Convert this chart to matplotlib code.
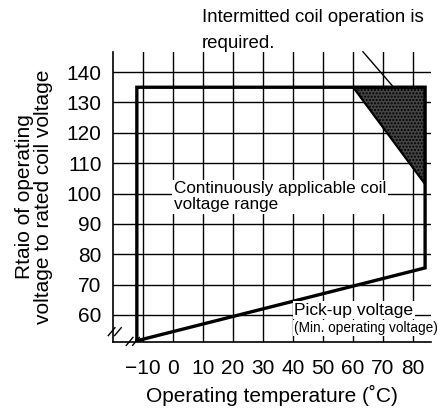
import matplotlib.pyplot as plt

plt.rcParams['font.family'] = ['Liberation Sans', 'DejaVu Sans']

# valori
temp_ticks = [-10, 0, 10, 20, 30, 40, 50, 60, 70, 80]
volt_ticks = [60, 70, 80, 90, 100, 110, 120, 130, 140]

# contorno zona di funzionamento continuo
region_temp = [-12, -12, 84, 84, -12]
region_volt = [51.5, 135, 135, 75.5, 51.5]

# zona a funzionamento intermittente (triangolo scuro)
intermit_temp = [60, 84, 84]
intermit_volt = [135, 135, 103]

# linea che collega la nota al triangolo
pointer_temp = [63.3, 73]
pointer_volt = [146.7, 135.6]

fig = plt.figure(figsize=(4.39, 4.13), dpi=100)
ax = fig.add_axes([0.257, 0.172, 0.725, 0.702])
ax.set_xlim(-20, 86)
ax.set_ylim(51.1, 146.6)

# griglia
for t in temp_ticks:
    ax.axvline(t, color='black', lw=1.0, zorder=1)
for v in volt_ticks:
    ax.axhline(v, color='black', lw=1.0, zorder=1)

ax.fill(intermit_temp, intermit_volt, facecolor='#444444', edgecolor='black',
        lw=1.6, hatch='.....', zorder=3)
ax.plot(region_temp, region_volt, color='black', lw=2.4, zorder=4,
        solid_joinstyle='miter')
ax.plot(pointer_temp, pointer_volt, color='black', lw=1.0, zorder=4, clip_on=False)

ax.set_xticks(temp_ticks)
ax.set_yticks(volt_ticks)
ax.set_xticklabels(['\u221210' if t < 0 else str(t) for t in temp_ticks], fontsize=15)
ax.set_yticklabels([str(v) for v in volt_ticks], fontsize=15)
ax.tick_params(axis='x', length=0, pad=12)
ax.tick_params(axis='y', length=0, pad=8)
for s in ['top', 'right']:
    ax.spines[s].set_visible(False)
ax.spines['left'].set_linewidth(1.2)
ax.spines['bottom'].set_linewidth(1.2)

ax.set_xlabel('Operating temperature (\u02daC)', fontsize=15, labelpad=5)
ax.set_ylabel('Rtaio of operating\nvoltage to rated coil voltage', fontsize=15,
              labelpad=10, linespacing=0.95)

box = dict(facecolor='white', edgecolor='none', pad=1)
ax.text(0.3, 99, 'Continuously applicable coil\nvoltage range', fontsize=12.3,
        ha='left', va='center', bbox=box, zorder=5, linespacing=1.1)
ax.text(40.5, 61.6, 'Pick-up voltage', fontsize=12.6, ha='left', va='center',
        bbox=box, zorder=5)
ax.text(40.5, 55.7, '(Min. operating voltage)', fontsize=9.8, ha='left',
        va='center', bbox=box, zorder=5, clip_on=False)
ax.text(9.7, 156.5, 'Intermitted coil operation is', fontsize=13.4,
        ha='left', va='baseline', clip_on=False)
ax.text(9.7, 147.9, 'required.', fontsize=13.4,
        ha='left', va='baseline', clip_on=False)

# segni di interruzione degli assi
for x0, y0 in [(-21.5, 53.2), (-19.4, 53.2), (-15.5, 50.0), (-13.4, 50.0)]:
    ax.plot([x0, x0 + 2.2], [y0, y0 + 2.6], color='black', lw=1.0, clip_on=False)

plt.savefig('out.png', dpi=100)
